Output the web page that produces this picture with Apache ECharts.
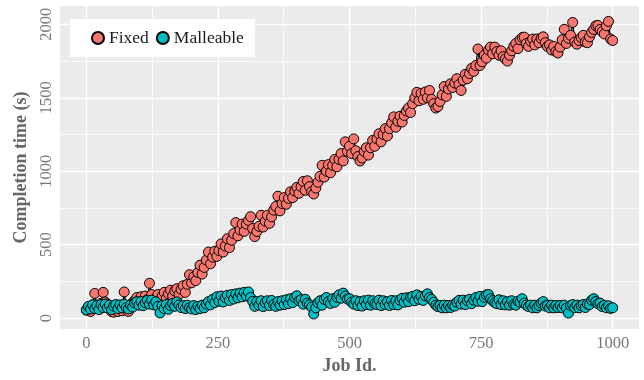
<!DOCTYPE html>
<html>
<head>
<meta charset="utf-8">
<script src="https://cdn.jsdelivr.net/npm/echarts@6/dist/echarts.min.js"></script>
<style>
  html, body { margin: 0; padding: 0; background: #fff; }
  #chart { width: 644px; height: 380px; }
</style>
</head>
<body>
<div id="chart"></div>
<script>
// job ids sampled every 4 jobs
const jobIds = [
  0,4,8,12,16,20,24,28,32,36,40,44,48,52,56,60,64,68,72,76,80,84,88,92,96,
  100,104,108,112,116,120,124,128,132,136,140,144,148,152,156,160,164,168,172,176,180,184,188,192,196,
  200,204,208,212,216,220,224,228,232,236,240,244,248,252,256,260,264,268,272,276,280,284,288,292,296,
  300,304,308,312,316,320,324,328,332,336,340,344,348,352,356,360,364,368,372,376,380,384,388,392,396,
  400,404,408,412,416,420,424,428,432,436,440,444,448,452,456,460,464,468,472,476,480,484,488,492,496,
  500,504,508,512,516,520,524,528,532,536,540,544,548,552,556,560,564,568,572,576,580,584,588,592,596,
  600,604,608,612,616,620,624,628,632,636,640,644,648,652,656,660,664,668,672,676,680,684,688,692,696,
  700,704,708,712,716,720,724,728,732,736,740,744,748,752,756,760,764,768,772,776,780,784,788,792,796,
  800,804,808,812,816,820,824,828,832,836,840,844,848,852,856,860,864,868,872,876,880,884,888,892,896,
  900,904,908,912,916,920,924,928,932,936,940,944,948,952,956,960,964,968,972,976,980,984,988,992,996,
  1000
];

const fixedTimes = [
  55,75,45,90,168,85,60,100,175,110,95,70,45,40,60,45,80,50,178,60,45,85,105,120,140,
  110,145,115,150,125,237,160,120,135,160,120,150,175,135,165,190,150,185,200,160,195,220,175,230,295,
  240,280,255,310,360,300,345,395,450,370,415,455,420,460,505,450,490,540,480,530,575,650,560,600,640,
  590,640,665,690,610,555,590,625,700,620,660,700,645,690,735,760,830,730,780,820,775,815,860,820,865,
  890,850,895,930,870,935,895,860,845,885,925,965,1040,960,1000,1045,990,1040,1080,1030,1080,1120,1070,1200,1135,
  1170,1120,1220,1140,1100,1070,1090,1135,1160,1110,1160,1210,1170,1220,1255,1200,1250,1290,1240,1290,1330,1370,1300,1340,1375,
  1335,1380,1410,1430,1400,1460,1500,1537,1480,1530,1490,1540,1500,1550,1490,1460,1430,1440,1475,1520,1577,1510,1560,1595,1570,
  1600,1630,1590,1550,1620,1660,1630,1665,1700,1680,1720,1832,1720,1745,1790,1770,1825,1845,1800,1845,1815,1790,1820,1780,1765,
  1750,1790,1820,1850,1870,1835,1895,1910,1913,1870,1850,1885,1900,1860,1900,1875,1905,1915,1875,1850,1860,1825,1850,1815,1805,
  1845,1895,1966,1870,1905,1925,2013,1880,1865,1890,1910,1925,1880,1875,1915,1945,1965,1990,1993,1965,1950,1935,1990,2020,1900,
  1890
];

const malleableTimes = [
  55,80,62,90,65,85,58,92,72,95,70,88,58,82,92,65,90,70,95,72,62,88,75,102,112,
  88,112,85,105,120,95,122,90,110,80,35,85,65,92,60,85,100,80,110,90,72,85,65,88,70,
  62,85,58,80,65,88,70,95,112,90,128,105,145,115,150,110,140,155,120,160,130,165,138,170,145,
  175,150,178,140,114,80,112,88,118,78,105,118,85,120,92,80,112,88,118,92,125,98,132,105,140,
  152,118,125,95,128,102,90,75,28,70,105,118,88,128,140,112,100,132,108,142,158,135,170,150,130,
  132,108,95,118,85,112,82,118,92,122,88,118,98,92,122,85,118,92,112,86,120,92,118,90,122,
  135,108,138,112,142,148,118,158,128,148,120,152,165,140,128,108,88,78,86,70,88,70,86,72,88,
  82,108,120,95,122,92,118,128,98,122,140,115,148,112,142,158,160,132,118,105,98,125,92,118,90,
  112,88,118,92,88,115,108,132,102,88,78,88,70,88,70,86,102,112,82,86,70,88,70,86,72,
  86,70,88,68,34,86,92,72,88,70,86,92,72,96,92,122,132,112,98,102,78,86,70,84,66,
  70
];

const xMajorTicks = [0, 250, 500, 750, 1000];
const xMinorTicks = [125, 375, 625, 875];
const yMajorTicks = [0, 500, 1000, 1500, 2000];
const yMinorTicks = [250, 750, 1250, 1750];

const FONT = "'Liberation Serif', 'DejaVu Serif', serif";

const fixedPoints = jobIds.map((id, i) => [id, fixedTimes[i]]);
const malleablePoints = jobIds.map((id, i) => [id, malleableTimes[i]]);

const gridLines = [
  ...xMajorTicks.map(v => ({ xAxis: v, lineStyle: { width: 1.4 } })),
  ...xMinorTicks.map(v => ({ xAxis: v, lineStyle: { width: 0.7 } })),
  ...yMajorTicks.map(v => ({ yAxis: v, lineStyle: { width: 1.4 } })),
  ...yMinorTicks.map(v => ({ yAxis: v, lineStyle: { width: 0.7 } })),
];

const chart = echarts.init(document.getElementById('chart'));

chart.setOption({
  animation: false,
  grid: {
    left: 60, right: 5, top: 6, bottom: 47,
    show: true, backgroundColor: '#EBEBEB', borderWidth: 0
  },
  legend: {
    data: ['Fixed', 'Malleable'],
    left: 70, top: 19,
    backgroundColor: '#fff',
    padding: [10, 11, 10, 21],
    itemGap: 7,
    itemWidth: 12, itemHeight: 12,
    icon: 'circle',
    textStyle: { fontFamily: FONT, fontSize: 17.5, color: '#1a1a1a' }
  },
  xAxis: {
    type: 'value', min: -50, max: 1050,
    name: 'Job Id.', nameLocation: 'middle', nameGap: 27,
    nameTextStyle: { fontFamily: FONT, fontSize: 18, fontWeight: 'bold', color: '#666' },
    axisLine: { show: false },
    splitLine: { show: false },
    axisTick: { show: true, length: 4, customValues: xMajorTicks, lineStyle: { color: '#333' } },
    axisLabel: {
      customValues: xMajorTicks, margin: 6, formatter: v => String(v),
      fontFamily: FONT, fontSize: 16.5, color: '#777'
    }
  },
  yAxis: {
    type: 'value', min: -75, max: 2125,
    name: 'Completion time (s)', nameLocation: 'middle', nameGap: 27,
    nameTextStyle: { fontFamily: FONT, fontSize: 18, fontWeight: 'bold', color: '#666' },
    axisLine: { show: false },
    splitLine: { show: false },
    axisTick: { show: true, length: 4, customValues: yMajorTicks, lineStyle: { color: '#333' } },
    axisLabel: {
      customValues: yMajorTicks, rotate: 90, margin: 5, formatter: v => String(v),
      fontFamily: FONT, fontSize: 16.5, color: '#777'
    }
  },
  series: [
    {
      name: 'grid', type: 'line', data: [], silent: true,
      markLine: {
        silent: true, symbol: 'none', z: 1, animation: false,
        label: { show: false },
        lineStyle: { color: '#fff', type: 'solid' },
        data: gridLines
      }
    },
    {
      name: 'Fixed line', type: 'line', data: fixedPoints, z: 2,
      showSymbol: false, silent: true,
      lineStyle: { color: '#000', width: 1.3 }
    },
    {
      name: 'Malleable line', type: 'line', data: malleablePoints, z: 2,
      showSymbol: false, silent: true,
      lineStyle: { color: '#000', width: 1.3 }
    },
    {
      name: 'Fixed', type: 'scatter', data: fixedPoints, z: 3,
      symbolSize: 10,
      itemStyle: { color: '#F8766D', borderColor: '#000', borderWidth: 1, opacity: 1 }
    },
    {
      name: 'Malleable', type: 'scatter', data: malleablePoints, z: 4,
      symbolSize: 10,
      itemStyle: { color: '#00BFC4', borderColor: '#000', borderWidth: 1, opacity: 1 }
    }
  ]
});
</script>
</body>
</html>
